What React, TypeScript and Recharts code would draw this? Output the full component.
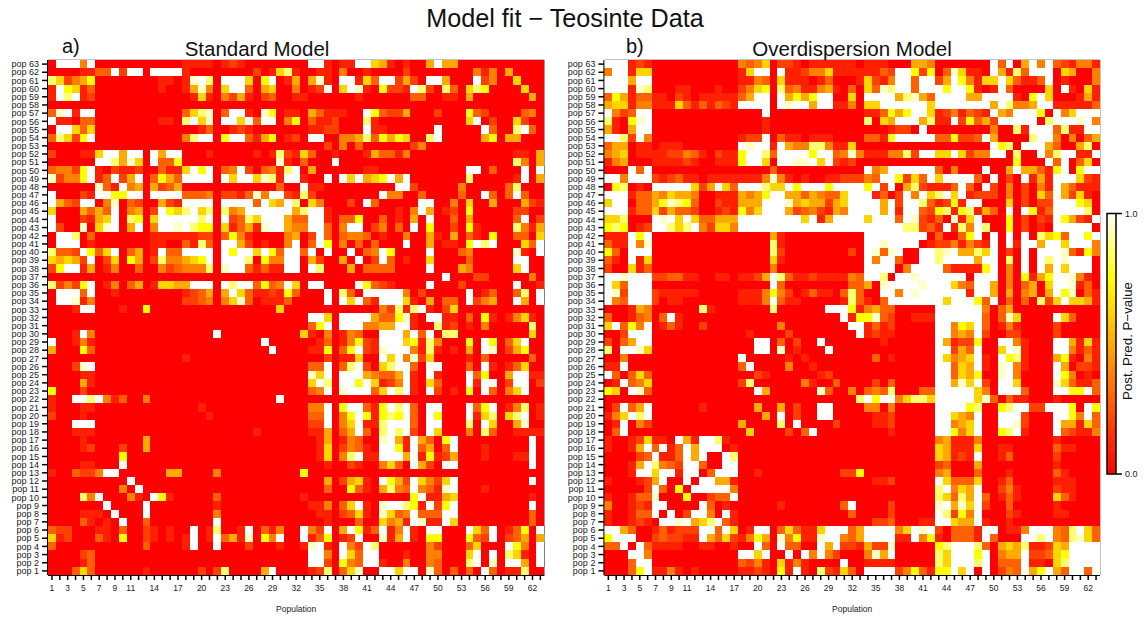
import React from 'react';
import { ScatterChart, Scatter, XAxis, YAxis, ReferenceArea, BarChart, Bar } from 'recharts';

// Each row is one population, pop 63 first; groups of ten columns separated by |, empty group = all red.
// Level: 0 red ... 7 yellow, 8-9 pale yellow, w white (posterior predictive p-value shade).
const rowsA: string[] = [
  '0www4w0000|0000000111|1012100000|000ww1011w|w65101005w|5500000000|000',
  '00001133w2|ww0wwww100|0000002016|8100110400|1000020000|0000414050|000',
  '8624570000|000011019w|80www607w0|1505910ww1|63ww2520ww|5000w24006|000',
  '1w76130000|0000100159|406ww30560|04012w06w9|107221w820|8306870000|600',
  '1w8w120000|0000000016|1042510230|0110000001|0000003300|1105000000|050',
  '',
  '39w1ww0000|0000000368|903ww10970|1105311100|w732250002|0007320000|340',
  'w110330000|00001108w6|90ww6w3ww0|4703112000|8100000000|0006w02006|200',
  '0ww6360000|0000000001|3001210000|0001122000|w11000000w|00000w3008|w30',
  '38627w0000|000000048w|w07ww31570|120ww00445|837576008w|0000057055|000',
  '|||0000020403|0000002400||',
  '2000116ww5|ww0w5ww000|1000001018|2163001000|1533140000|0000000001|105',
  '000000ww85|960w337000|0000000009|103000w000||0000000008|405',
  '34427w1021|12003116w7|w034w20341|8w05000000|1100000000|000ww03000|w0w',
  '92447w13w2|5w03753www|w0w6ww6981|ww100w0w6w|567w5w0000|0008000001|w05',
  '000000931w|4505235000|0000000003|00w1100000|0000ww2000|0040000038|000',
  'w00021ww77|ww0wwww333|40221394ww|2182000000|00w4400300|00300w303w|300',
  'w532ww0490|3200521www|w0wwww3w65|w806400020|w300000ww0|0406005000|521',
  '60005353w0|4502w768w6|80845wwwww|w58ww10000|0000104w50|1207000002|200',
  'w0002156w0|8706wwwww8|w0w2386www|533ww10337|00301050w0|0305000003|w02',
  'w2009069w0|5w04ww9w87|70613519ww|544ww304ww|024030w070|0207100008|415',
  '0ww8030000|0001111112|2037410000|4502w30344|3010040051|0503107003|306',
  '0www010000|0001100318|30ww520100|4w03w70403|03000w0050|1107w8w000|63w',
  '8332w736w0|3501w33www|w0w7ww6w73|ww3w0w00w0|34w70000w0|0034000009|10w',
  '65652w0260|7502844567|w0www80744|ww0520050w|02w3010060|000300000w|w00',
  '27ww150140|0300423444|809ww31311|ww0w800050|33330000w0|0054000006|w00',
  '|||||w000220000|040',
  '82427w0140|35016655ww|w0w8ww3734|w60ww0000w|73210000w0|002000000w|001',
  '0www3w0010|0000000123|505w631121|73000w0830|wwwww40200|000w013003|80w',
  '0ww9140000|0000000223|4046930111|30000w0w6w|31www61050|330w24500w|50w',
  '0001ww0001|0070000000|0000000006||0042818w10|2600000000|000',
  '|||000ww60www|w5337910ww|1103071014|610',
  '|||00037w0www|4455ww1008|1201040000|080',
  '0001w40000||0w00000000|0061040143|00www5w3w0|8800000000|060',
  'w001410000||0000000w00|0000130147|21www67184|00070w7036|w00',
  '5000730000||00000000w0|000117037w|219www4181|01050w9025|700',
  '|0000000100||0000020116|00w6w49260|0001030000|030',
  '00029w0000|||00033w038w|2068ww30ww|00030w1013|600',
  '0000110000|||00096w0www|54335w10w1|000w37005w|w11',
  '0000510000|||0006w80ww7|w6124w1063|000w1ww02w|w02',
  '7000200000|||00034w09ww|w36w8w10w2|01070w3046|w00',
  '100ww8w413|0040000000|000000000w||||',
  '1000110000|0000000001||00044w07ww|317w8w30ww|000w37w014|801',
  '2000100000||1000000000|00033w047w|71787w30w7|000w168068|w01',
  '000www0000|||00022w046w|118www30ww|00080w6005|900',
  '0001110000||0000001000|000115035w|308w8w20w6|0004083001|111',
  '0000100000|0050000000||0000150143|009w51w530|7w00000000|0w0',
  '0000120002|0050000000||0000160243|10ww71w350|3w00010000|0w0',
  '0000000007|||000016048w|11www5w171|2500010001|1w0',
  '000011000w|||0000010021|004630w520|ww00000000|0w0',
  '1003224ww0|0000055000|0400000000|0070000000|||',
  '|w000000000||0000050256|10w752w642|6w00000000|0w0',
  '0000000004|0w00000000||0000030073|105843w431|9w00010000|000',
  '000084w000|410w710000|0300000000|0010000000|0000007w11|5600000000|010',
  '0000000w00|00w0000000|0100000000|000114036w|109ww871w2|7w00000000|0w0',
  '00001110w0|00w0000000|0400000000|0000110236|109634w333|ww00000000|030',
  '000031010w|0030000000|0w00000000|0000010003|006451w911|w600000000|030',
  '3220001103|00210100w0|18001w0314|00w42w05w7|13w14w10ww|000w63w013|70w',
  '6120003107|00210101w0|1w3519074w|00w137012w|00915w1077|000732w023|505',
  '3000000000|00300001w0|0w00020001|0019w10w42|w800000042|00036000w7|40w',
  '0000230000|||000ww40w63|ww00010044|0006w0w086|10w',
  '0000130000|||000ww20743|ww10040043|0008w090ww|50w',
  '0003630000|0010000002|02800005w0|0001280369|00ww6ww093|03030w3011|800',
];

const rowsB: string[] = [
  'www1210000|0000000434|6022101111|1101110005|540000000w|3w05w4w321|441',
  '4ww1660000|000000016w|w0w1124461|1111132ww7|270396110w|5183www065|004',
  'www5ww0000|0000000114|3061110130|0016214ww3|ww25w74166|w63113w010|004',
  'www1980001|1000100246|7083411451|0306398ww3|www7ww7101|w3000060w1|061',
  '3751331102|101111135w|w0w5757ww0|060wwww589|53wwww55ww|ww107w6000|151',
  '5661441116|3131321www|w0w9ww5ww1|14066wwwww|w6wwwwwww5|w8445ww111|113',
  'w423ww0000||w000000000|000113757w|w61241321w|54www70w46|www',
  '81079w0000||1000000000|0008065www|5811w27352|wwwww08www|9w4',
  '5105ww0000||1000000000|0000001220|w000000004|0081www381|1ww',
  'ww82w40000|0000000122|w031101110|0003317www|ww337223w5|00008ww404|035',
  '3550110111|0000000w9w|w1w5448841|1600000000|000000000w|780www5300|580',
  '4560111122|43102117ww|83wwww7ww3|4941114482|ww66w6244w|w0800w48ww|11w',
  '1450001111|21001117ww|60ww99w6w2|1200000000||007000w3w0|360',
  '000w3w0000||0300000000|000w45wwww|ww304000w0|05w55317w0|7ww',
  'ww4www2123|1101111111|4941010011|22243ww726|3w6wwww30w|020w151www|621',
  '078010wwww|w625w63www|866w7www7w|www7w2w058|21113w30w2|0402041w53|111',
  'www1335465|5400111545|7ww5535433|6www1302w4|w68w6w1222|0402063w52|610',
  '6ww0335798|7300211555|www9565525|6wwww5w2ww|831271ww00|0602022www|760',
  'www1336253|3200121746|www5234215|4wwww5w1ww|3278178153|0w0w713www|w80',
  '668000w9w6|w633555www|wwwww6w15w|www6www3w9|2130916w00|0702021w75|21w',
  '787012ww86|8w42664www|wwwwwwwwww|wwwwwwww88|231w184w80|0702010www|ww0',
  '111w7w0000||0510000000|000wwwwwww|w030037w0w|0w0w08673w|w7w',
  '311w490000||0810000000|000ww9wwww|012241421w|0w1ww5ww6w|ww4',
  '730www0000||0820000000|020w939w00|ww89w5586w|020w0www93|174',
  '310w160000||0610000000|000w4ww300|ww8wwww5ww|080w0w8w9w|ww0',
  '2006130000||0400000000|000wwww04w|www311117w|040w0w5w6w|ww0',
  'ww9www2233|1100110112|5w83112111|143ww80ww9|wwwwww0www|0407157ww9|410',
  'w63www0000||0w30000000|033509wwww|9www643ww5|0403506ww9|130',
  'w92www2111|1100000111|4742013110|38300ww4w9|wwwwww1ww5|0504505w79|031',
  'w43www2011|0000000111|4w31100000|183103wwww|www6www73w|03030826w6|651',
  '0001540000|0081000000|08000000ww|w714533000|00wwwwww40|3500000000|000',
  '30013403w1|||w177932001|11wwwwww30|3960000w63|000',
  '6w374w0131|0020000000|0040000000|0ww1312000|00ww476w30|1410000200|000',
  '002www0000|0000000010|0002000000|00w1211000|00ww454w20|0220000200|000',
  '2035ww0000|000000000w|w030200w00|0000010000|00w5122700|ww41000ww5|161',
  '80ww960000|000000000w|w0901000w0||00ww253w00|6w91000ww4|131',
  '0040000000|0000000w00|0001010000|0000301000|00w6456w10|w781000571|041',
  '11w0000000|00000003w0|0004001000||00ww365w10|9w41000w50|221',
  'w303630000|0000000002|1000000120||00ww365700|9w40000w74|010',
  '01w3460000|0000000280|0000041003|0000203000|00ww596w20|ww60000963|113',
  '760w930000|000000000w|5000000930|0403438000|33wwwww640|www3000ww7|7w3',
  '|||008w7ww468|86wwwww693|0311000100|000',
  '02w35w0000|0010000005|0050200ww0|0004404000|00wwww7800|78ww22www7|0w7',
  '146w8w0000||50w0200ww0|0000112000|00ww654w00|www2000ww7|4w3',
  '01w0420000|0000000500|0080w00002|0000112000|00ww456w00|ww92000w55|163',
  '03w0000000|0000000060|000203w000|0000001000|00ww746w00|78w1000w32|114',
  '100126110w|51ww810000|||0045111400|0000000100|000',
  '10015w3w13|w5www01000|||0065111600|1100000311|000',
  '000023w113|w5w00w8000|||0065121w00|1300000200|000',
  '00015w8432|ww300ww000|||0023000500|0000000100|000',
  '0001ww6ww1|ww03www001||2270000000|0045000300|0100000310|000',
  '1000125w00|w0ww551000||0000112000|00w6333600|1300000111|000',
  '000002w307|0wwwww4000|||008w465w00|2410000211|000',
  '1001339000|700233w000|||0086385w30|1310000631|000',
  '400121ww00|00w3010000|0010000000|3w00002000|009w596w20|0300000100|000',
  '100133w0w0|2ww40w1000||0300002000|00w8274w00|0210000110|000',
  '1001210ww9|w568w31000||0000223000|11ww655w10|0100000000|000',
  'ww53001312|22ww3w601w|w0363116ww|w35wwww46w|9w203331ww|0114www438|w63',
  '7www002322|11w5362147|50947119ww|435wwww11w|47103331w3|000ww8w438|963',
  '33w0w31111|001100100w|30w3300w5w|2215229000|0078www830|565811265w|www',
  '000ww40000|0000000ww6|w00w0w4w42|000495w000|0086www7w0|455w22367w|www',
  '0003ww0000|0000000324|1061410000|w001111000|0086www8w0|333w11068w|www',
  '00037w1141|0100000112|1071w10821|630wwww247|3177w6w0w0|243w57w53w|w3w',
];

const xLabels = [1, 3, 5, 7, 9, 11, 14, 17, 20, 23, 26, 29, 32, 35, 38, 41, 44, 47, 50, 53, 56, 59, 62];
const popTicks = Array.from({ length: 63 }, (_, i) => i + 1);
const levelColors: Record<string, string> = {
  '0': '#ff0000', '1': '#ff2000', '2': '#ff4000', '3': '#ff6000', '4': '#ff8000',
  '5': '#ffaa00', '6': '#ffd500', '7': '#ffff00', '8': '#ffff70', '9': '#ffffc8', w: '#ffffff',
};
const colorbarValue = [{ name: 'p', value: 1 }];
const colorbarTicks = [0, 1];

const FONT = '"Liberation Sans", Arial, sans-serif';
const INK = '#1a1a1a';

type Cell = { x: number; y: number; level: string };

function buildCells(rows: string[]): Cell[] {
  const cells: Cell[] = [];
  rows.forEach((row, r) => {
    const groups = row.split('|');
    const s = [0, 1, 2, 3, 4, 5, 6]
      .map((g) => (groups[g] ?? '').padEnd(g === 6 ? 3 : 10, '0').slice(0, g === 6 ? 3 : 10))
      .join('');
    for (let c = 0; c < 63; c++) cells.push({ x: c + 1, y: 63 - r, level: s[c] });
  });
  return cells;
}

function Panel({ rows, left, chartWidth, axisWidth, rightMargin }: { rows: string[]; left: number; chartWidth: number; axisWidth: number; rightMargin: number }) {
  const cells = React.useMemo(() => buildCells(rows), [rows]);
  const plotW = chartWidth - axisWidth - rightMargin;
  const top = 60;
  const axisH = 42;
  const height = 617;
  const cw = plotW / 63;
  const ch = (height - top - axisH) / 63;
  const shape = (p: any) => {
    const c: Cell = p.payload;
    const x0 = p.cx - cw / 2;
    const y0 = p.cy - ch / 2;
    return (
      <g>
        <rect x={x0} y={y0} width={cw} height={ch} fill={levelColors[c.level]} shapeRendering="crispEdges" />
        {c.level === 'w' && c.y === 63 ? <line x1={x0} x2={x0 + cw} y1={y0 - 0.5} y2={y0 - 0.5} stroke="#000" /> : null}
        {c.level === 'w' && c.x === 63 ? <line x1={x0 + cw + 0.5} x2={x0 + cw + 0.5} y1={y0} y2={y0 + ch} stroke="#000" /> : null}
      </g>
    );
  };
  return (
    <div style={{ position: 'absolute', left, top: 0 }}>
      <ScatterChart width={chartWidth} height={height} margin={{ top, right: rightMargin, bottom: 0, left: 0 }}>
        <XAxis
          type="number"
          dataKey="x"
          domain={[0.5, 63.5]}
          ticks={popTicks}
          interval={0}
          height={axisH}
          tickSize={5}
          tickMargin={5}
          allowDataOverflow
          axisLine={{ stroke: '#000', strokeWidth: 2 }}
          tickLine={{ stroke: '#000', strokeWidth: 1.5 }}
          tick={{ fontSize: 8.5, fill: INK, fontFamily: FONT }}
          tickFormatter={(v: number) => (xLabels.includes(v) ? String(v) : '')}
          label={{ value: 'Population', position: 'insideBottom', offset: 5, fontSize: 8.5, fill: INK, fontFamily: FONT }}
        />
        <YAxis
          type="number"
          dataKey="y"
          domain={[0.5, 63.5]}
          ticks={popTicks}
          interval={0}
          width={axisWidth}
          tickSize={6}
          tickMargin={3}
          allowDataOverflow
          axisLine={{ stroke: '#000', strokeWidth: 2 }}
          tickLine={{ stroke: '#000', strokeWidth: 1.5 }}
          tick={{ fontSize: 9, fill: INK, fontFamily: FONT }}
          tickFormatter={(v: number) => 'pop ' + v}
        />
        <Scatter data={cells} isAnimationActive={false} shape={shape} />
        <ReferenceArea x1={0.5} x2={63.5} y1={0.5} y2={63.5} fill="none" stroke="#888888" strokeWidth={1} />
      </ScatterChart>
    </div>
  );
}

function Text({ x, y, size, children, anchor = 'left' }: { x: number; y: number; size: number; children: React.ReactNode; anchor?: string }) {
  return (
    <div
      style={{
        position: 'absolute',
        left: x,
        top: y,
        fontSize: size,
        fontFamily: FONT,
        color: '#111',
        whiteSpace: 'nowrap',
        lineHeight: 1,
        transform: anchor === 'center' ? 'translate(-50%,-50%)' : 'translateY(-50%)',
      }}
    >
      {children}
    </div>
  );
}

export default function App() {
  return (
    <div style={{ position: 'absolute', left: 0, top: 0, width: 1145, height: 617, background: '#fff', overflow: 'hidden' }}>
      <Panel rows={rowsA} left={0} chartWidth={560} axisWidth={48} rightMargin={15.7} />
      <Panel rows={rowsB} left={560} chartWidth={545} axisWidth={44.4} rightMargin={5} />
      <Text x={565} y={19} size={25.2} anchor="center">Model fit − Teosinte Data</Text>
      <Text x={257} y={49} size={20.5} anchor="center">Standard Model</Text>
      <Text x={852} y={49} size={20.5} anchor="center">Overdispersion Model</Text>
      <Text x={62} y={46} size={20}>a)</Text>
      <Text x={626} y={46} size={20}>b)</Text>
      <div style={{ position: 'absolute', left: 1100, top: 0 }}>
        <BarChart width={45} height={617} data={colorbarValue} barCategoryGap={0} margin={{ top: 213.5, right: 0, bottom: 143, left: 7 }}>
          <defs>
            <linearGradient id="heat" x1="0" y1="1" x2="0" y2="0">
              <stop offset="0" stopColor="#ff0000" />
              <stop offset="0.75" stopColor="#ffff00" />
              <stop offset="1" stopColor="#ffffff" />
            </linearGradient>
          </defs>
          <XAxis dataKey="name" hide />
          <YAxis
            orientation="right"
            type="number"
            domain={[0, 1]}
            ticks={colorbarTicks}
            interval={0}
            width={29}
            tickSize={6}
            tickMargin={3}
            axisLine={false}
            tickLine={{ stroke: '#000', strokeWidth: 1.5 }}
            tick={{ fontSize: 9, fill: INK, fontFamily: FONT }}
            tickFormatter={(v: number) => v.toFixed(1)}
          />
          <Bar dataKey="value" fill="url(#heat)" stroke="#000" strokeWidth={1.5} isAnimationActive={false} />
        </BarChart>
      </div>
      <div
        style={{
          position: 'absolute',
          left: 1128,
          top: 341,
          fontSize: 13.3,
          fontFamily: FONT,
          color: '#111',
          whiteSpace: 'nowrap',
          lineHeight: 1,
          transform: 'translate(-50%,-50%) rotate(-90deg)',
        }}
      >
        Post. Pred. P−value
      </div>
    </div>
  );
}
